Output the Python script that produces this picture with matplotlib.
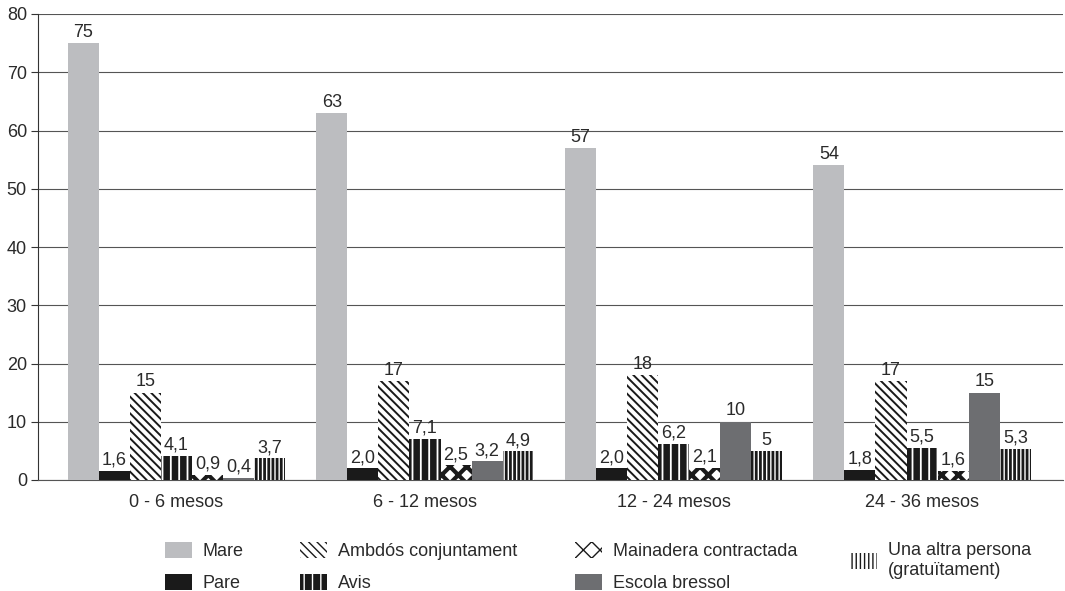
import matplotlib.pyplot as plt
import numpy as np

plt.rcParams['font.family'] = ['Liberation Sans', 'DejaVu Sans']

# age groups and series (values as printed on the chart)
groups = ["0 - 6 mesos", "6 - 12 mesos", "12 - 24 mesos", "24 - 36 mesos"]
series = ["Mare", "Pare", "Ambdós conjuntament", "Avis",
          "Mainadera contractada", "Escola bressol",
          "Una altra persona\n(gratuïtament)"]
mare = [75, 63, 57, 54]
pare = [1.6, 2.0, 2.0, 1.8]
ambdos = [15, 17, 18, 17]
avis = [4.1, 7.1, 6.2, 5.5]
mainadera = [0.9, 2.5, 2.1, 1.6]
escola = [0.4, 3.2, 10, 15]
altra = [3.7, 4.9, 5, 5.3]
labels = [
    ["75", "63", "57", "54"],
    ["1,6", "2,0", "2,0", "1,8"],
    ["15", "17", "18", "17"],
    ["4,1", "7,1", "6,2", "5,5"],
    ["0,9", "2,5", "2,1", "1,6"],
    ["0,4", "3,2", "10", "15"],
    ["3,7", "4,9", "5", "5,3"],
]
values = [mare, pare, ambdos, avis, mainadera, escola, altra]

# (facecolor, edgecolor, hatch, hatch linewidth)
styles = [
    ("#bcbdc0", "#bcbdc0", None, 1.0),
    ("#1a1a1a", "#1a1a1a", None, 1.0),
    ("white", "#1a1a1a", "\\\\\\\\", 1.4),
    ("#1a1a1a", "white", "||", 1.3),
    ("white", "#1a1a1a", "xx", 3.0),
    ("#6d6e71", "#6d6e71", None, 1.0),
    ("white", "#1a1a1a", "||||", 2.0),
]

fig = plt.figure(figsize=(10.65, 5.91), dpi=100)
ax = fig.add_axes([38 / 1065, 1 - 480 / 591, 1025 / 1065, 466 / 591])

x = np.arange(len(groups))
width = 0.125
n = len(series)
text_col = "#2a2a2a"
fs = 13

handles = []
for i in range(n):
    fc, ec, hatch, hlw = styles[i]
    pos = x + (i - (n - 1) / 2) * width
    with plt.rc_context({'hatch.linewidth': hlw, 'hatch.color': ec}):
        bars = ax.bar(pos, values[i], width, color=fc, edgecolor=ec,
                      hatch=hatch, linewidth=0, label=series[i], zorder=3)
    handles.append(bars)
    for p, v, lab in zip(pos, values[i], labels[i]):
        ax.text(p, v + 0.4, lab, ha="center", va="bottom",
                fontsize=fs, color=text_col, zorder=4)

ax.set_xlim(-0.557, 3.567)
ax.set_ylim(0, 80)
ax.set_yticks(range(0, 81, 10))
ax.set_xticks(x)
ax.set_xticklabels(groups)
ax.tick_params(axis="x", length=0, pad=10, labelsize=fs, labelcolor=text_col)
ax.tick_params(axis="y", length=5, width=0.8, pad=3, labelsize=fs,
               labelcolor=text_col, color="#333333")
ax.yaxis.grid(True, color="#555555", linewidth=0.8, zorder=0)
ax.set_axisbelow(True)
for s in ["top", "right"]:
    ax.spines[s].set_visible(False)
ax.spines["left"].set_color("#333333")
ax.spines["bottom"].set_color("#555555")
ax.spines["left"].set_linewidth(0.8)
ax.spines["bottom"].set_linewidth(0.8)

# legend: one block per column, as in the original layout
columns = [[0, 1], [2, 3], [4, 5], [6]]
col_x = [165, 300, 575, 850]
for idx, cx in zip(columns, col_x):
    leg = fig.legend(handles=[handles[k] for k in idx],
                     labels=[series[k] for k in idx],
                     loc="upper left", bbox_to_anchor=(cx / 1065, 1 - 542 / 591),
                     ncol=1, frameon=False, fontsize=fs, handlelength=1.5,
                     handleheight=1.0, handletextpad=0.6, labelspacing=0.75,
                     borderpad=0, borderaxespad=0, labelcolor=text_col)

fig.savefig("out.png", dpi=100)
